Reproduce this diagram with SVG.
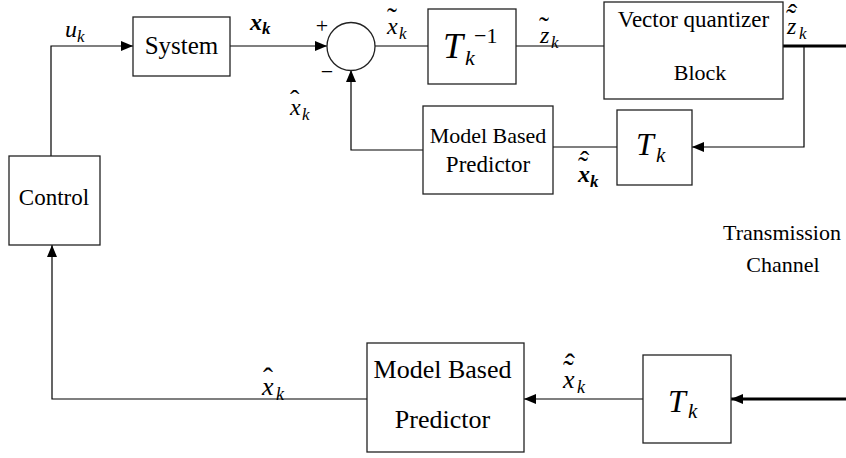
<svg xmlns="http://www.w3.org/2000/svg" width="846" height="458" viewBox="0 0 846 458">
<style>
text{font-family:"Liberation Serif","Times New Roman",serif !important;fill:#000}
.m{font-style:italic}
.b{font-weight:bold}
.box{fill:#fff;stroke:#222;stroke-width:1.3}
</style>
<defs>
<marker id="ah" markerUnits="userSpaceOnUse" markerWidth="14" markerHeight="10" refX="12" refY="5" orient="auto">
<path d="M0,0 L12,5 L0,10 Z" fill="#000"/>
</marker>
</defs>
<g id="connectors" fill="none" stroke="#000" stroke-width="1.2">
<path d="M51,156 V46 H133" marker-end="url(#ah)"/>
<path d="M230,46 H327" marker-end="url(#ah)"/>
<path d="M375,46 H428"/>
<path d="M516,46 H604"/>
<path d="M783,46 H846" stroke-width="3"/>
<path d="M804,46 V147 H692" marker-end="url(#ah)"/>
<path d="M617,147 H553"/>
<path d="M423,150 H351 V70" marker-end="url(#ah)"/>
<path d="M846,399 H731" stroke-width="3" marker-end="url(#ah)"/>
<path d="M643,399 H524" marker-end="url(#ah)"/>
<path d="M367,399 H52 V245" marker-end="url(#ah)"/>
</g>
<g id="system">
<rect class="box" x="133" y="17" width="97" height="59"/>
<text font-family="Liberation Serif" x="181.5" y="54" font-size="25" text-anchor="middle">System</text>
</g>
<g id="sum">
<circle class="box" cx="351" cy="46.5" r="24"/>
<text font-family="Liberation Serif" x="322" y="33" font-size="22" text-anchor="middle">+</text>
<text font-family="Liberation Serif" x="327" y="79" font-size="22" text-anchor="middle">−</text>
</g>
<g id="tinv">
<rect class="box" x="428" y="9" width="88" height="75"/>
<text font-family="Liberation Serif" class="m" x="443" y="58" font-size="36">T</text>
<text font-family="Liberation Serif" class="m" x="465" y="65" font-size="22">k</text>
<text font-family="Liberation Serif" x="474" y="43" font-size="22">−1</text>
</g>
<g id="vq">
<rect class="box" x="604" y="2" width="179" height="97"/>
<text font-family="Liberation Serif" x="693.5" y="27" font-size="23" text-anchor="middle">Vector quantizer</text>
<text font-family="Liberation Serif" x="700" y="80" font-size="22" text-anchor="middle">Block</text>
</g>
<g id="tk-top">
<rect class="box" x="617" y="110" width="75" height="75"/>
<text font-family="Liberation Serif" class="m" x="636" y="155" font-size="32">T</text>
<text font-family="Liberation Serif" class="m" x="656" y="162" font-size="21">k</text>
</g>
<g id="mbp-top">
<rect class="box" x="423" y="106" width="130" height="88"/>
<text font-family="Liberation Serif" x="488" y="143" font-size="22" text-anchor="middle">Model Based</text>
<text font-family="Liberation Serif" x="488" y="172" font-size="23" text-anchor="middle">Predictor</text>
</g>
<g id="control">
<rect class="box" x="9" y="156" width="91" height="89"/>
<text font-family="Liberation Serif" x="54" y="205" font-size="23" text-anchor="middle">Control</text>
</g>
<g id="channel">
<text font-family="Liberation Serif" x="782" y="240" font-size="22" text-anchor="middle">Transmission</text>
<text font-family="Liberation Serif" x="783" y="272" font-size="22" text-anchor="middle">Channel</text>
</g>
<g id="tk-bottom">
<rect class="box" x="643" y="355" width="88" height="88"/>
<text font-family="Liberation Serif" class="m" x="668" y="412" font-size="32">T</text>
<text font-family="Liberation Serif" class="m" x="688" y="418" font-size="21">k</text>
</g>
<g id="mbp-bottom">
<rect class="box" x="367" y="343" width="157" height="109"/>
<text font-family="Liberation Serif" x="442.5" y="378" font-size="26" text-anchor="middle">Model Based</text>
<text font-family="Liberation Serif" x="442.5" y="428" font-size="26" text-anchor="middle">Predictor</text>
</g>
<g id="labels">
<text font-family="Liberation Serif" class="m" x="65" y="37" font-size="24">u</text>
<text font-family="Liberation Serif" class="m" x="77" y="42" font-size="17">k</text>
<text font-family="Liberation Serif" class="m b" x="250" y="30" font-size="24">x</text>
<text font-family="Liberation Serif" class="m b" x="262" y="34" font-size="17">k</text>
<text font-family="Liberation Serif" class="m" x="387" y="34" font-size="24">x</text>
<text font-family="Liberation Serif" x="387" y="28" font-size="30">˜</text>
<text font-family="Liberation Serif" class="m" x="399" y="39" font-size="17">k</text>
<text font-family="Liberation Serif" class="m" x="290" y="115" font-size="24">x</text>
<text font-family="Liberation Serif" x="290" y="109" font-size="28">ˆ</text>
<text font-family="Liberation Serif" class="m" x="302" y="120" font-size="17">k</text>
<text font-family="Liberation Serif" class="m" x="540" y="43" font-size="24">z</text>
<text font-family="Liberation Serif" x="539" y="37" font-size="30">˜</text>
<text font-family="Liberation Serif" class="m" x="551" y="48" font-size="17">k</text>
<text font-family="Liberation Serif" class="m" x="787" y="34" font-size="24">z</text>
<text font-family="Liberation Serif" x="786" y="29" font-size="30">˜</text>
<text font-family="Liberation Serif" x="788" y="23" font-size="28">ˆ</text>
<text font-family="Liberation Serif" class="m" x="799" y="39" font-size="17">k</text>
<text font-family="Liberation Serif" class="m b" x="578" y="182" font-size="24">x</text>
<text font-family="Liberation Serif" x="578" y="177" font-size="30">˜</text>
<text font-family="Liberation Serif" x="580" y="170" font-size="28">ˆ</text>
<text font-family="Liberation Serif" class="m b" x="590" y="187" font-size="17">k</text>
<text font-family="Liberation Serif" class="m" x="563" y="388" font-size="26">x</text>
<text font-family="Liberation Serif" x="563" y="382" font-size="32">˜</text>
<text font-family="Liberation Serif" x="565" y="374" font-size="30">ˆ</text>
<text font-family="Liberation Serif" class="m" x="577" y="393" font-size="18">k</text>
<text font-family="Liberation Serif" class="m" x="262" y="395" font-size="26">x</text>
<text font-family="Liberation Serif" x="263" y="388" font-size="30">ˆ</text>
<text font-family="Liberation Serif" class="m" x="276" y="400" font-size="18">k</text>
</g>
</svg>
